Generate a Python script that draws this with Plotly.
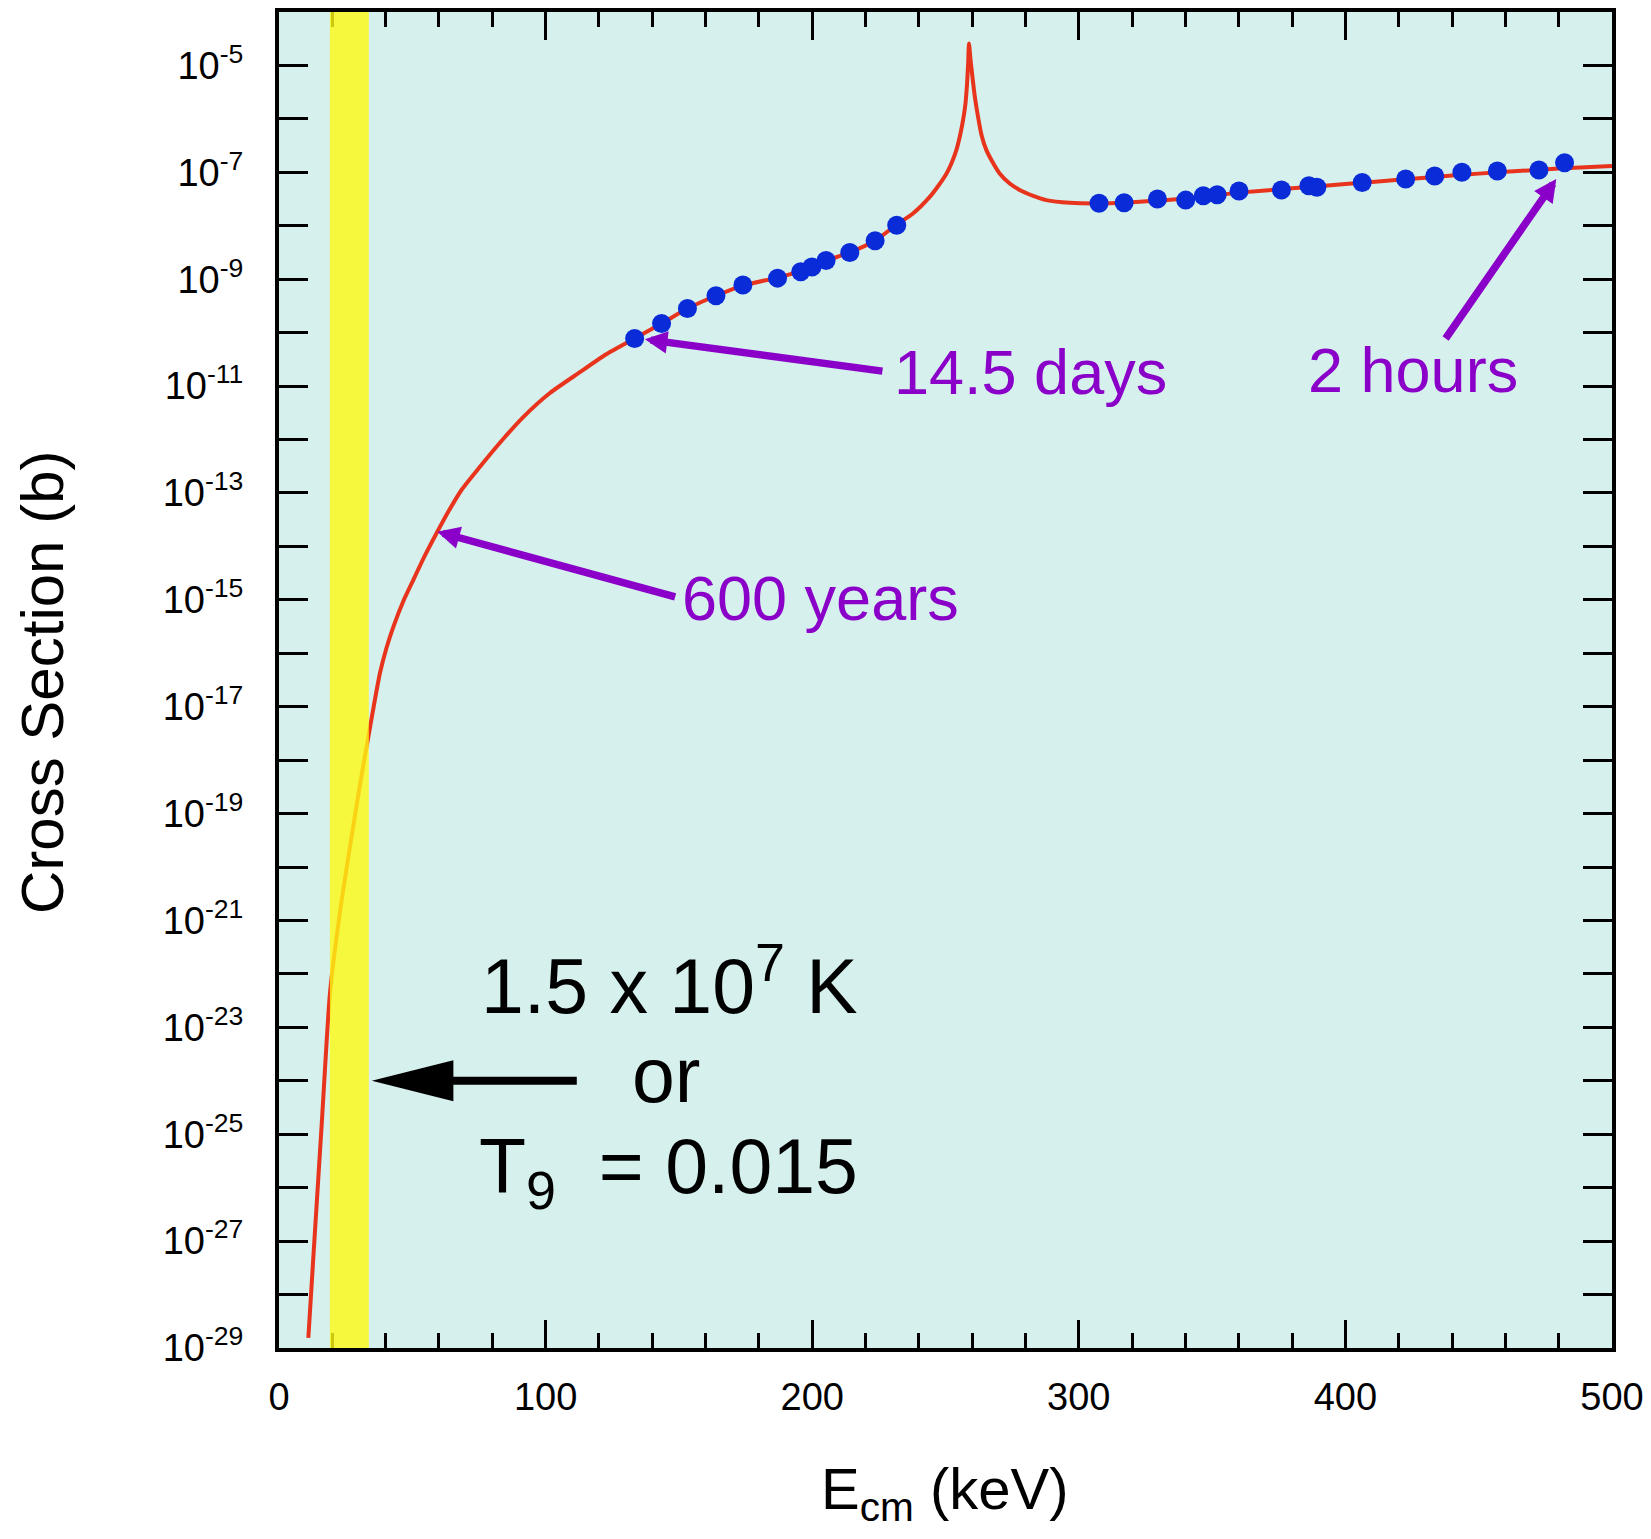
import numpy as np
import plotly.graph_objects as go

# Calculated cross section curve: centre-of-mass energy (keV) and log10(sigma / b)
curve_energy_kev = [
    11.0, 13.5, 16.12, 19.12, 22.87, 26.62, 30.37, 33.49, 35.62, 37.87,
    40.31, 42.86, 46.5, 50.36, 54.75, 59.14, 63.75, 68.51, 75.37, 82.87,
    91.61, 101.62, 112.87, 122.62, 133.42, 143.5, 153.2, 163.9, 174.0, 187.0,
    197.0, 205.0, 214.0, 223.6, 231.6, 237.8, 244.1, 247.25, 250.4, 252.25,
    254.1, 255.37, 256.6, 257.5, 258.1, 258.5, 258.8, 259.4, 260.1, 261.0,
    262.2, 263.5, 265.3, 267.9, 270.3, 274.1, 277.8, 282.9, 287.8, 296.6,
    310.0, 320.0, 340.0, 360.0, 380.0, 400.0, 420.0, 440.0, 460.0, 480.0,
    500.0,
]
curve_log_sigma = [
    -28.81, -26.81, -24.73, -22.36, -20.84, -19.62, -18.46, -17.57, -16.97, -16.37,
    -15.90, -15.51, -15.04, -14.63, -14.17, -13.75, -13.33, -12.94, -12.51, -12.06,
    -11.58, -11.13, -10.74, -10.41, -10.11, -9.83, -9.55, -9.31, -9.12, -8.97,
    -8.83, -8.66, -8.50, -8.28, -7.98, -7.77, -7.46, -7.256, -7.02, -6.83,
    -6.58, -6.33, -6.02, -5.71, -5.33, -4.96, -4.59, -4.90, -5.21, -5.585,
    -5.96, -6.30, -6.58, -6.83, -7.02, -7.21, -7.33, -7.44, -7.52, -7.57,
    -7.58, -7.56, -7.49, -7.38, -7.30, -7.22, -7.14, -7.06, -6.99, -6.93,
    -6.88,
]

# Measured points
data_energy_kev = [
    133.4, 143.5, 153.2, 163.9, 174.0, 187.0, 195.7, 199.9, 205.2, 214.1,
    223.6, 231.7, 307.6, 317.0, 329.5, 340.1, 346.7, 351.9, 360.1, 376.0,
    386.3, 389.3, 406.3, 422.6, 433.5, 443.7, 457.0, 472.6, 482.2,
]
data_log_sigma = [
    -10.11, -9.83, -9.55, -9.31, -9.11, -8.98, -8.86, -8.77, -8.65, -8.50,
    -8.28, -7.99, -7.58, -7.57, -7.50, -7.52, -7.44, -7.42, -7.35, -7.33,
    -7.25, -7.28, -7.19, -7.125, -7.07, -7.00, -6.975, -6.957, -6.82,
]

# Gamow window at T9 = 0.015 (keV)
gamow_window_kev = [19.1, 33.7]

# Axis ranges and ticks
x_range = [0, 500]
x_major_ticks = [0, 100, 200, 300, 400, 500]
log_y_range = [-29, -4]
y_tick_exponents = list(range(-29, -4))

# Labelled lifetimes: (text, arrow target energy, arrow target log10 sigma)
lifetime_labels = ["14.5 days", "600 years", "2 hours"]
lifetime_energy_kev = [137.25, 59.36, 479.1]
lifetime_log_sigma = [-10.125, -13.725, -7.125]

FONT = "Liberation Sans, Arial, Helvetica, sans-serif"
PURPLE = "#8A00C8"
RED = "#E8341C"
BLUE = "#0A2BD8"

fig = go.Figure()

fig.add_trace(go.Scatter(
    x=curve_energy_kev,
    y=10 ** np.array(curve_log_sigma),
    mode="lines",
    line=dict(color=RED, width=4, shape="spline", smoothing=0.6),
    hoverinfo="skip",
    showlegend=False,
))

fig.add_trace(go.Scatter(
    x=data_energy_kev,
    y=10 ** np.array(data_log_sigma),
    mode="markers",
    marker=dict(color=BLUE, size=19, line=dict(width=0)),
    showlegend=False,
))

tick_text = [f"10<sup>{e}</sup>" if e % 2 else "" for e in y_tick_exponents]

fig.update_xaxes(
    range=x_range,
    tickmode="array",
    tickvals=x_major_ticks,
    ticks="inside",
    ticklen=28,
    tickwidth=3,
    tickcolor="black",
    minor=dict(dtick=20, tick0=0, ticks="inside", ticklen=15, tickwidth=3,
               tickcolor="black", showgrid=False),
    showline=True,
    linewidth=4,
    linecolor="black",
    mirror="ticks",
    showgrid=False,
    zeroline=False,
    automargin=False,
    tickfont=dict(family=FONT, size=38, color="black"),
    ticklabelstandoff=12,
)

fig.update_yaxes(
    type="log",
    range=log_y_range,
    tickmode="array",
    tickvals=[10.0 ** e for e in y_tick_exponents],
    ticktext=tick_text,
    ticks="inside",
    ticklen=29,
    tickwidth=3,
    tickcolor="black",
    showline=True,
    linewidth=4,
    linecolor="black",
    mirror="ticks",
    showgrid=False,
    zeroline=False,
    automargin=False,
    tickfont=dict(family=FONT, size=38, color="black"),
    ticklabelstandoff=24,
)

# Gamow window band, translucent over the curve
fig.add_shape(
    type="rect", xref="x", yref="y domain",
    x0=gamow_window_kev[0], x1=gamow_window_kev[1], y0=0, y1=1,
    fillcolor="rgb(254,250,18)", opacity=0.8, line=dict(width=0), layer="above",
)

# Black arrow pointing at the window, at sigma = 1e-24
arrow_dom = (-24 - log_y_range[0]) / (log_y_range[1] - log_y_range[0])
half_h = 20.5 / 1336
fig.add_shape(
    type="line", xref="x", yref="y domain",
    x0=63.0, x1=111.7, y0=arrow_dom, y1=arrow_dom,
    line=dict(color="black", width=8), layer="above",
)
fig.add_shape(
    type="path", xref="x", yref="y domain",
    path=f"M 34.8,{arrow_dom} L 65.4,{arrow_dom + half_h} L 65.4,{arrow_dom - half_h} Z",
    fillcolor="black", line=dict(width=0), layer="above",
)

annotations = []

# Lifetime arrows (heads on the curve)
arrow_offsets = [(239, 32), (239.4, 65.6), (-111.7, 161)]
for e, ls, (ax, ay) in zip(lifetime_energy_kev, lifetime_log_sigma, arrow_offsets):
    annotations.append(dict(
        x=e, y=ls, xref="x", yref="y", text="", showarrow=True,
        ax=ax, ay=ay, arrowhead=2, arrowsize=0.6, arrowwidth=7.5,
        arrowcolor=PURPLE, standoff=0,
    ))

# Lifetime texts
label_pos = [(0.4598, 0.7309), (0.3008, 0.5617), (0.7703, 0.7317)]
for txt, (xp, yp) in zip(lifetime_labels, label_pos):
    annotations.append(dict(
        x=xp, y=yp, xref="paper", yref="paper", text=txt, showarrow=False,
        xanchor="left", yanchor="middle",
        font=dict(family=FONT, size=63, color=PURPLE),
    ))

# Temperature note
temp_lines = ["1.5 x 10<sup>7</sup> K", "or", "T<sub>9</sub>&nbsp; = 0.015"]
temp_pos = [(0.2933, 0.2751), (0.2903, 0.2040), (0.2925, 0.1321)]
for txt, (xp, yp) in zip(temp_lines, temp_pos):
    annotations.append(dict(
        x=xp, y=yp, xref="paper", yref="paper", text=txt, showarrow=False,
        xanchor="center", yanchor="middle",
        font=dict(family=FONT, size=77, color="black"),
    ))

# Axis titles
annotations.append(dict(
    x=-0.1778, y=0.4985, xref="paper", yref="paper", text="Cross Section (b)",
    showarrow=False, textangle=-90, xanchor="center", yanchor="middle",
    font=dict(family=FONT, size=60, color="black"),
))
annotations.append(dict(
    x=0.4995, y=-0.1085, xref="paper", yref="paper", text="E<sub>cm</sub> (keV)",
    showarrow=False, xanchor="center", yanchor="middle",
    font=dict(family=FONT, size=58, color="black"),
))

fig.update_layout(
    width=1651,
    height=1539,
    autosize=False,
    margin=dict(l=279, r=39, t=12, b=191, pad=0, autoexpand=False),
    plot_bgcolor="#D6F0EE",
    paper_bgcolor="white",
    annotations=annotations,
    showlegend=False,
)

fig.write_html("out.html")
